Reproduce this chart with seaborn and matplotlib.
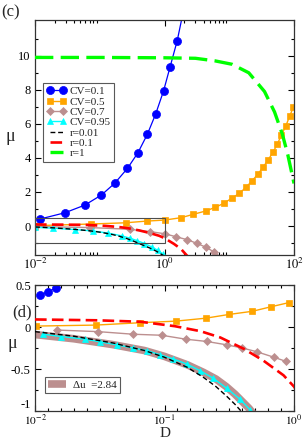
import matplotlib
matplotlib.use("Agg")
import matplotlib.pyplot as plt
import numpy as np
import seaborn as sns
from matplotlib.patches import Rectangle
from matplotlib.ticker import FixedLocator, FixedFormatter, NullFormatter

# ---- panel (c) data ----
blue_c_D = [0.0119, 0.029, 0.0588, 0.106, 0.170, 0.267, 0.388, 0.542, 0.727, 0.966, 1.22, 1.57, 2.0]
blue_c_mu = [0.41, 0.78, 1.23, 1.82, 2.51, 3.38, 4.30, 5.38, 6.56, 7.93, 9.35, 10.88, 12.8]
orange_c_D = [0.01, 0.074, 0.25, 0.53, 1.0, 1.8, 2.8, 4.3, 6.1, 8.2, 10.9, 14.3, 18.1, 22.3,
              27.6, 33.2, 39.8, 47.6, 55.4, 63.8, 74.5, 85.9, 98.0]
orange_c_mu = [0.02, 0.12, 0.19, 0.29, 0.35, 0.49, 0.69, 0.88, 1.10, 1.33, 1.63, 1.92, 2.27, 2.64,
               3.04, 3.45, 3.88, 4.35, 4.82, 5.34, 5.87, 6.46, 7.0]
brown_c_D = [0.01, 0.07, 0.29, 0.6, 1.0, 1.51, 2.23, 3.18, 4.38, 5.73, 7.5]
brown_c_mu = [-0.03, -0.09, -0.19, -0.33, -0.45, -0.63, -0.80, -1.02, -1.25, -1.51, -1.85]
cyan_c_D = [0.01, 0.019, 0.041, 0.078, 0.133, 0.22, 0.29, 0.38, 0.49, 0.63, 0.78, 0.95]
cyan_c_mu = [-0.07, -0.13, -0.205, -0.29, -0.41, -0.58, -0.71, -0.86, -1.03, -1.22, -1.42, -1.65]
green_D = [0.01, 0.1, 1, 3, 6, 11, 20, 35, 50, 66, 80, 90, 100]
green_mu = [9.9, 9.9, 9.88, 9.85, 9.7, 9.5, 9.0, 7.9, 6.7, 5.4, 4.2, 3.3, 2.5]

# ---- shared dashed curves ----
black_D = [0.01, 0.02, 0.04, 0.07, 0.1, 0.15, 0.2, 0.25, 0.3, 0.35, 0.4, 0.5, 0.6, 0.75, 0.95, 1.05]
black_mu = [-0.055, -0.11, -0.19, -0.28, -0.36, -0.48, -0.6, -0.71, -0.82, -0.92, -1.02, -1.17,
            -1.3, -1.48, -1.72, -1.85]
red_D = [0.01, 0.03, 0.065, 0.12, 0.19, 0.27, 0.41, 0.58, 0.83, 1.0, 1.4, 1.8, 2.3]
red_mu = [0.09, 0.08, 0.063, 0.01, -0.05, -0.125, -0.26, -0.40, -0.575, -0.71, -1.05, -1.35, -1.8]

# ---- panel (d) data ----
blue_d_D = [0.0109, 0.0125, 0.0144]
blue_d_mu = [0.38, 0.42, 0.46]
orange_d_D = [0.0101, 0.0294, 0.0647, 0.122, 0.208, 0.316, 0.476, 0.66, 0.91]
orange_d_mu = [0.011, 0.023, 0.051, 0.07, 0.105, 0.15, 0.187, 0.24, 0.29]
brown_d_D = [0.0147, 0.0308, 0.0574, 0.095, 0.146, 0.212, 0.302, 0.399, 0.515, 0.70, 0.87]
brown_d_mu = [-0.036, -0.055, -0.086, -0.098, -0.145, -0.172, -0.212, -0.25, -0.294, -0.36, -0.41]
cyan_d_D = [0.0116, 0.0159, 0.0243, 0.0318, 0.0428, 0.0574, 0.073, 0.092, 0.117, 0.148, 0.188,
            0.238, 0.302, 0.383, 0.457]
cyan_d_mu = [-0.086, -0.113, -0.145, -0.176, -0.212, -0.25, -0.28, -0.33, -0.38, -0.44, -0.52,
             -0.61, -0.73, -0.86, -0.985]
band_D = [0.01, 0.02, 0.04, 0.07, 0.1, 0.15, 0.2, 0.25, 0.3, 0.35, 0.4, 0.45, 0.5]
band_mu = [-0.09, -0.14, -0.21, -0.28, -0.35, -0.45, -0.54, -0.62, -0.71, -0.80, -0.89, -0.97, -1.06]

cv_labels = ["CV=0.1", "CV=0.5", "CV=0.7", "CV=0.95"]
r_labels = ["r=0.01", "r=0.1", "r=1"]
band_label = "Δu  =2.84"

zoom_xlim = (0.01, 1.0)
zoom_ylim = (-1.0, 0.5)

sns.set_style("ticks")
plt.rcParams["font.family"] = ["Liberation Serif", "DejaVu Serif"]
plt.rcParams["mathtext.fontset"] = "stix"
plt.rcParams["axes.unicode_minus"] = False

BLUE, ORANGE, BROWN, CYAN = "#0000ff", "#ffa500", "#bc8f8f", "#00ffff"
RED, GREEN = "#ff0000", "#00ff00"


def curve(ax, x, y, color, marker=None, ms=5, lw=1.0, ls="-", z=2):
    sns.lineplot(x=x, y=y, ax=ax, color=color, marker=marker, markersize=ms,
                 linewidth=lw, linestyle=ls, markeredgecolor=color,
                 markeredgewidth=0.5, errorbar=None, sort=False, zorder=z)
    return ax.lines[-1]


fig = plt.figure(figsize=(3.05, 4.41), dpi=100)
ax_c = fig.add_axes([0.1148, 0.4218, 0.8492, 0.5329])
ax_d = fig.add_axes([0.1148, 0.068, 0.8492, 0.2857])
for ax in (ax_c, ax_d):
    ax.set_xscale("log")

# panel (c)
h = []
h.append(curve(ax_c, blue_c_D, blue_c_mu, BLUE, "o", 5.8, 0.9))
h.append(curve(ax_c, orange_c_D, orange_c_mu, ORANGE, "s", 5, 1.0))
h.append(curve(ax_c, brown_c_D, brown_c_mu, BROWN, "D", 3.8, 1.0))
h.append(curve(ax_c, cyan_c_D, cyan_c_mu, CYAN, "^", 5, 1.0))
h.append(curve(ax_c, black_D, black_mu, "black", lw=1.0, ls=(0, (3.5, 2)), z=3))
h.append(curve(ax_c, red_D, red_mu, RED, lw=1.9, ls=(0, (4.4, 2)), z=3))
h.append(curve(ax_c, green_D, green_mu, GREEN, lw=2.4, ls=(0, (5.5, 2.2)), z=3))
ax_c.add_patch(Rectangle((zoom_xlim[0], zoom_ylim[0]), zoom_xlim[1] - zoom_xlim[0],
                         zoom_ylim[1] - zoom_ylim[0], fill=False, ec="0.3", lw=0.8, zorder=4))

ax_c.set_xlim(0.01, 100)
ax_c.set_ylim(-1.7, 12.1)
ax_c.xaxis.set_major_locator(FixedLocator([0.01, 1, 100]))
ax_c.xaxis.set_major_formatter(FixedFormatter([r"$10^{-2}$", r"$10^{0}$", r"$10^{2}$"]))
ax_c.xaxis.set_minor_locator(FixedLocator([k * 0.01 for k in range(2, 10)] + list(range(2, 10))))
ax_c.xaxis.set_minor_formatter(NullFormatter())
ax_c.yaxis.set_major_locator(FixedLocator([0, 2, 4, 6, 8, 10]))
ax_c.yaxis.set_minor_locator(FixedLocator([-1, 1, 3, 5, 7, 9, 11]))

leg = ax_c.legend(h, cv_labels + r_labels, loc="upper left", bbox_to_anchor=(0.032, 0.731),
                  borderaxespad=0, fancybox=False, edgecolor="0.35", framealpha=1,
                  fontsize=8, numpoints=2, handlelength=1.8, handletextpad=0.3,
                  labelspacing=0.05, borderpad=0.3)
leg.get_frame().set_linewidth(0.8)

# panel (d)
band = curve(ax_d, band_D, band_mu, BROWN, lw=5.5, z=1)
band.set_solid_capstyle("butt")
curve(ax_d, blue_d_D, blue_d_mu, BLUE, "o", 5.8, 0.9)
curve(ax_d, orange_d_D, orange_d_mu, ORANGE, "s", 5, 1.0)
curve(ax_d, brown_d_D, brown_d_mu, BROWN, "D", 3.8, 1.0)
curve(ax_d, cyan_d_D, cyan_d_mu, CYAN, "^", 5, 1.0)
curve(ax_d, black_D, black_mu, "black", lw=1.0, ls=(0, (3.5, 2)), z=3)
curve(ax_d, red_D, red_mu, RED, lw=1.9, ls=(0, (4.4, 2)), z=3)

ax_d.set_xlim(*zoom_xlim)
ax_d.set_ylim(*zoom_ylim)
ax_d.xaxis.set_major_locator(FixedLocator([0.01, 0.1, 1]))
ax_d.xaxis.set_major_formatter(FixedFormatter([r"$10^{-2}$", r"$10^{-1}$", r"$10^{0}$"]))
ax_d.xaxis.set_minor_locator(FixedLocator(10 ** np.arange(-2, 0.001, 0.1)))
ax_d.xaxis.set_minor_formatter(NullFormatter())
ax_d.yaxis.set_major_locator(FixedLocator([-1, -0.5, 0, 0.5]))
ax_d.yaxis.set_major_formatter(FixedFormatter(["-1", "-0.5", "0", "0.5"]))
ax_d.yaxis.set_minor_locator(FixedLocator([-0.75, -0.25, 0.25]))

leg2 = ax_d.legend([band], [band_label], loc="lower left", bbox_to_anchor=(0.0386, 0.143),
                   borderaxespad=0, fancybox=False, edgecolor="0.35", framealpha=1,
                   fontsize=8, handlelength=1.6, handletextpad=0.6, borderpad=0.3)
leg2.get_frame().set_linewidth(0.8)

for ax in (ax_c, ax_d):
    ax.set_xlabel("")
    ax.set_ylabel("")
    ax.tick_params(which="both", direction="in", top=True, right=True, labelsize=9,
                   colors="black", width=0.8)
    ax.tick_params(which="major", length=4, pad=3)
    ax.tick_params(which="minor", length=2.5)
    ax.tick_params(axis="x", which="major", pad=1.5)
    for s in ax.spines.values():
        s.set_linewidth(0.9)
        s.set_color("0.2")
ax_d.tick_params(axis="x", labelsize=8.2, pad=1.5)
for lab in ax_d.get_yticklabels():
    if lab.get_text() == "-1":
        lab.set_va("bottom")

fig.text(0.005, 0.972, "(c)", fontsize=12, va="center", ha="left")
fig.text(0.039, 0.291, "(d)", fontsize=12, va="center", ha="left")
fig.text(0.033, 0.69, "μ", fontsize=13, va="center", ha="center")
fig.text(0.039, 0.222, "μ", fontsize=13, va="center", ha="center")
fig.text(0.541, 0.003, "D", fontsize=11, va="bottom", ha="center")

fig.savefig("out.png", dpi=100)
